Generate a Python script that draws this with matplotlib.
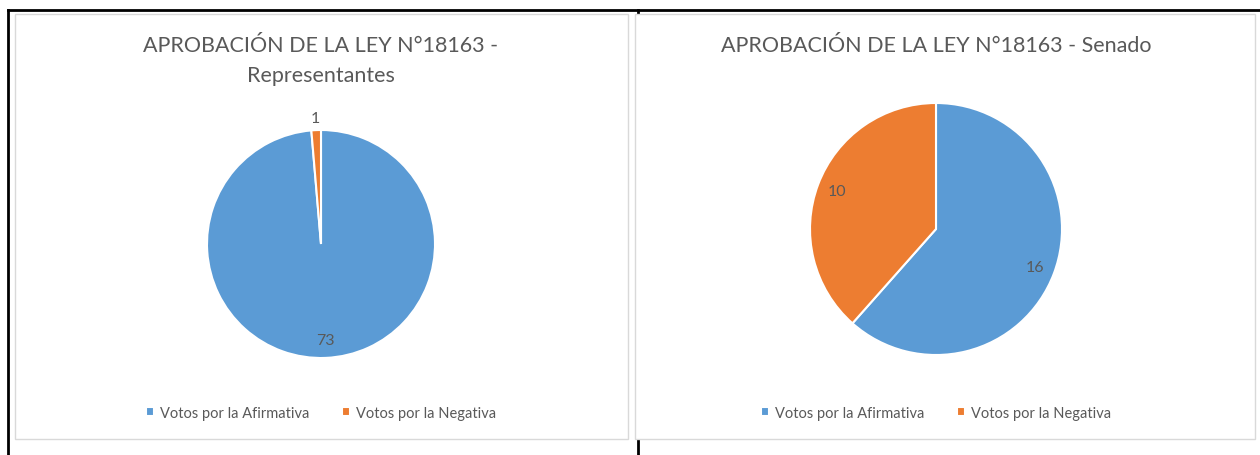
import matplotlib.pyplot as plt
from matplotlib.patches import Rectangle
from matplotlib.lines import Line2D
import numpy as np

# Datos
categorias = ["Votos por la Afirmativa", "Votos por la Negativa"]
votos_representantes = [73, 1]
votos_senado = [16, 10]
titulo_rep = "APROBACIÓN DE LA LEY N°18163 -\nRepresentantes"
titulo_sen = "APROBACIÓN DE LA LEY N°18163 - Senado"

colores = ["#5B9BD5", "#ED7D31"]
gris_texto = "#595959"
W, H = 1260, 456

plt.rcParams['font.family'] = ['Lato', 'DejaVu Sans']

fig = plt.figure(figsize=(W / 100, H / 100), dpi=100)
fig.patch.set_facecolor("white")


def px(x, y):
    # pixeles (origen arriba-izquierda) -> coordenadas de figura
    return x / W, 1 - y / H


# Lineas negras del documento
for (x0, y0), (x1, y1) in [((8, 11), (W, 11)), ((8, 11), (8, H)), ((638, 11), (638, H))]:
    a, b = px(x0, y0)
    c, d = px(x1, y1)
    fig.add_artist(Line2D([a, c], [b, d], color="black", lw=2, zorder=0))

# Cajas de los graficos
for x0, x1 in [(15, 628), (635, 1255)]:
    a, b = px(x0, 440)
    fig.add_artist(Rectangle((a, b), (x1 - x0) / W, (440 - 15) / H,
                             facecolor="white", edgecolor="#D9D9D9", lw=1, zorder=1))


def torta(cx, cy, r, valores, titulo, ty):
    x, y = px(cx - r, cy + r)
    ax = fig.add_axes([x, y, 2 * r / W, 2 * r / H])
    ax.set_zorder(2)
    wedges, textos, autot = ax.pie(valores, colors=colores, startangle=90, counterclock=False,
                                   autopct=lambda p: f"{round(p * sum(valores) / 100):d}",
                                   pctdistance=0.84, labels=None,
                                   wedgeprops=dict(edgecolor="white", linewidth=1.5),
                                   textprops=dict(color=gris_texto, fontsize=11.5))
    # etiqueta fuera para rebanadas pequeñas
    for w, t, v in zip(wedges, autot, valores):
        if v / sum(valores) < 0.05:
            ang = np.deg2rad((w.theta1 + w.theta2) / 2)
            t.set_position((1.11 * np.cos(ang), 1.11 * np.sin(ang)))
    ax.set_xlim(-1, 1)
    ax.set_ylim(-1, 1)
    ax.set_aspect("auto")
    tx, tyf = px(cx, ty)
    fig.text(tx, tyf, titulo, ha="center", va="top", fontsize=15.5, color=gris_texto,
             linespacing=1.6, zorder=3)
    lx, ly = px(cx, 414)
    fig.legend(wedges, categorias, loc="center", bbox_to_anchor=(lx, ly), ncol=2, frameon=False,
               fontsize=10.5, labelcolor=gris_texto, handlelength=0.55, handleheight=0.55,
               handletextpad=0.4, columnspacing=2.2)


torta(321, 245, 114, votos_representantes, titulo_rep, 36)
torta(936, 230, 126, votos_senado, titulo_sen, 36)

fig.savefig("out.png", dpi=100)
